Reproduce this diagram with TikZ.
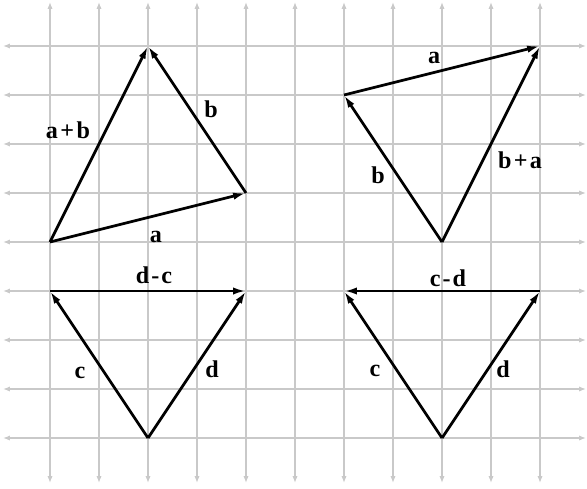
\documentclass[tikz,border=0pt]{standalone}
\usepackage{fontspec}
\setmainfont{Liberation Serif}
\usetikzlibrary{arrows.meta}
\begin{document}
\begin{tikzpicture}[x=1cm,y=1cm,
  gridline/.style={draw=black!21, line width=0.8pt, {Latex[length=4pt,width=3pt]}-{Latex[length=4pt,width=3pt]}},
  vec/.style={draw=black, line width=1.6pt, -{Latex[length=7.5pt,width=4.2pt]}},
  lbl/.style={anchor=base, inner sep=0pt, font=\fontsize{14}{16}\selectfont\bfseries}]
\useasboundingbox (-1.0204,-1.0204) rectangle (10.959,8.939);
% grid
\foreach \i in {0,...,10} \draw[gridline] (\i,-0.92) -- (\i,8.9);
\foreach \j in {0,...,8} \draw[gridline] (-0.96,\j) -- (10.94,\j);
% triangle 1
\coordinate (A1) at (0,4);
\coordinate (B1) at (4,5);
\coordinate (C1) at (2,8);
\draw[vec] (A1) -- (B1);
\draw[vec] (B1) -- (C1);
\draw[vec] (A1) -- (C1);
\node[lbl] (la1) at (2.163,4.0) {a};
\node[lbl] (lb1) at (3.286,6.551) {b};
\node[lbl] (lab) at (0.367,6.122) {a\kern0.1em+\kern0.1em b};
% triangle 2
\coordinate (A2) at (6,7);
\coordinate (B2) at (10,8);
\coordinate (C2) at (8,4);
\draw[vec] (A2) -- (B2);
\draw[vec] (C2) -- (A2);
\draw[vec] (C2) -- (B2);
\node[lbl] (la2) at (7.837,7.653) {a};
\node[lbl] (lb2) at (6.694,5.204) {b};
\node[lbl] (lba) at (9.592,5.510) {b\kern0.1em+\kern0.1em a};
% triangle 3
\coordinate (A3) at (0,3);
\coordinate (B3) at (4,3);
\coordinate (C3) at (2,0);
\draw[vec] (C3) -- (A3);
\draw[vec] (C3) -- (B3);
\draw[vec] (A3) -- (B3);
\node[lbl] (lc3) at (0.612,1.224) {c};
\node[lbl] (ld3) at (3.306,1.245) {d};
\node[lbl] (ldc) at (2.122,3.163) {d\kern0.08em-\kern0.08em c};
% triangle 4
\coordinate (A4) at (6,3);
\coordinate (B4) at (10,3);
\coordinate (C4) at (8,0);
\draw[vec] (C4) -- (A4);
\draw[vec] (C4) -- (B4);
\draw[vec] (B4) -- (A4);
\node[lbl] (lc4) at (6.633,1.265) {c};
\node[lbl] (ld4) at (9.245,1.245) {d};
\node[lbl] (lcd) at (8.122,3.102) {c\kern0.08em-\kern0.08em d};
\end{tikzpicture}
\end{document}
